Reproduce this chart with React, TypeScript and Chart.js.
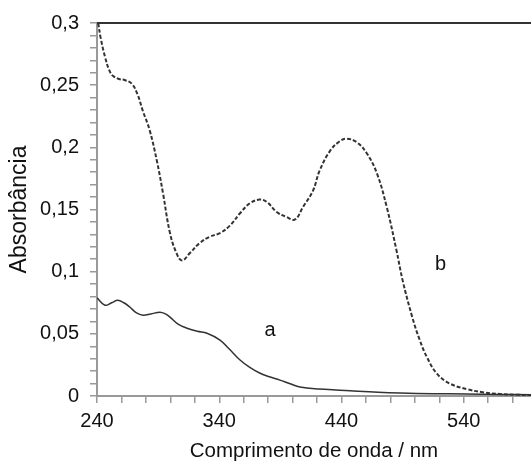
import React, { useEffect, useRef } from "react";
import { Chart, registerables } from "chart.js";

Chart.register(...registerables);

// Curve b (dashed)
const bX = [241, 243, 246.5, 250, 253, 258, 263, 268.6, 273, 277.6, 283, 289, 294, 299.7, 305, 309.5, 316, 324, 332, 340.6, 348.7, 357, 365, 373, 379, 387, 395, 402, 408.5, 416.6, 422, 430.5, 438.7, 444, 452.6, 460.8, 469, 477, 485, 490, 498, 504, 510, 518, 528.6, 542.5, 555.6, 569.5, 583, 595];
const bY = [0.300, 0.288, 0.273, 0.262, 0.2575, 0.255, 0.254, 0.251, 0.243, 0.229, 0.214, 0.189, 0.163, 0.131, 0.115, 0.109, 0.115, 0.123, 0.128, 0.131, 0.137, 0.147, 0.155, 0.158, 0.156, 0.148, 0.144, 0.142, 0.152, 0.165, 0.181, 0.197, 0.205, 0.207, 0.204, 0.195, 0.179, 0.152, 0.117, 0.093, 0.063, 0.045, 0.031, 0.018, 0.010, 0.0055, 0.003, 0.0016, 0.001, 0.0008];

// Curve a (solid)
const aX = [240, 246.5, 252, 257, 262, 267, 272, 277.6, 284, 291.5, 296, 299.7, 306, 313.6, 322, 330, 340.6, 348, 357, 365, 373, 381, 389.6, 398, 406, 422, 447, 470, 488, 515, 542, 570, 595];
const aY = [0.079, 0.073, 0.075, 0.077, 0.075, 0.0714, 0.067, 0.065, 0.066, 0.0674, 0.066, 0.0634, 0.058, 0.0545, 0.052, 0.0505, 0.045, 0.038, 0.029, 0.023, 0.0185, 0.0155, 0.0128, 0.0098, 0.0072, 0.0056, 0.0042, 0.003, 0.0024, 0.0019, 0.0016, 0.0013, 0.001];

const xMin = 240;
const xMax = 595;
const xTickValues = [240, 260, 280, 300, 320, 340, 360, 380, 400, 420, 440, 460, 480, 500, 520, 540, 560, 580];
const xLabelValues = [240, 340, 440, 540];
const yMin = 0;
const yMax = 0.3;
const yTickValues = Array.from({ length: 31 }, (_, i) => i / 100);

const curveLabels = [
  { text: "a", x: 381.5, y: 0.053 },
  { text: "b", x: 521, y: 0.106 },
];

const FONT = "'Liberation Sans', Arial, sans-serif";

const overlayPlugin = {
  id: "overlay",
  afterDatasetsDraw(chart: any) {
    const { ctx, chartArea, scales } = chart;
    const ys = scales.y;
    const xs = scales.x;
    ctx.save();
    const yt = ys.getPixelForValue(yMax);
    ctx.strokeStyle = "#333333";
    ctx.lineWidth = 2;
    ctx.beginPath();
    ctx.moveTo(chartArea.left, yt);
    ctx.lineTo(chartArea.right, yt);
    ctx.stroke();
    ctx.fillStyle = "#111111";
    ctx.font = `20px ${FONT}`;
    ctx.textAlign = "center";
    ctx.textBaseline = "middle";
    for (const l of curveLabels) {
      ctx.fillText(l.text, xs.getPixelForValue(l.x), ys.getPixelForValue(l.y));
    }
    ctx.restore();
  },
};

export default function App() {
  const ref = useRef<HTMLCanvasElement | null>(null);
  useEffect(() => {
    if (!ref.current) return;
    const chart = new Chart(ref.current, {
      type: "line",
      data: {
        datasets: [
          {
            label: "b",
            data: bX.map((x, i) => ({ x, y: bY[i] })),
            borderColor: "#333333",
            borderWidth: 2,
            borderDash: [4, 2],
            pointRadius: 0,
            tension: 0.4,
            fill: false,
          },
          {
            label: "a",
            data: aX.map((x, i) => ({ x, y: aY[i] })),
            borderColor: "#333333",
            borderWidth: 1.5,
            pointRadius: 0,
            tension: 0.4,
            fill: false,
          },
        ],
      },
      options: {
        responsive: false,
        animation: false,
        layout: { padding: { top: 22, right: 0, left: 0, bottom: 0 } },
        plugins: {
          legend: { display: false },
          tooltip: { enabled: false },
        },
        scales: {
          x: {
            type: "linear",
            min: xMin,
            max: xMax,
            afterBuildTicks: (scale: any) => {
              scale.ticks = xTickValues.map((v) => ({ value: v }));
            },
            afterFit: (scale: any) => {
              scale.height = 67;
            },
            ticks: {
              autoSkip: false,
              maxRotation: 0,
              padding: 6,
              color: "#111111",
              font: { family: FONT, size: 20 },
              callback: (v: any) => (xLabelValues.includes(Number(v)) ? String(v) : ""),
            },
            grid: {
              drawOnChartArea: false,
              drawTicks: true,
              tickLength: 7,
              color: "#999999",
              lineWidth: 1.5,
            },
            border: { display: true, color: "#999999", width: 2 },
            title: {
              display: true,
              text: "Comprimento de onda / nm",
              color: "#111111",
              font: { family: FONT, size: 20.5, lineHeight: 1 },
              padding: { top: 0, bottom: 1 },
            },
          },
          y: {
            type: "linear",
            min: yMin,
            max: yMax,
            afterBuildTicks: (scale: any) => {
              scale.ticks = yTickValues.map((v) => ({ value: v }));
            },
            afterFit: (scale: any) => {
              scale.width = 97;
            },
            ticks: {
              autoSkip: false,
              padding: 11,
              color: "#111111",
              font: { family: FONT, size: 20 },
              callback: (v: any) => {
                const n = Math.round(Number(v) * 100);
                if (n % 5 !== 0) return "";
                if (n === 0) return "0";
                return String(n / 100).replace(".", ",");
              },
            },
            grid: {
              drawOnChartArea: false,
              drawTicks: true,
              tickLength: 7,
              color: "#999999",
              lineWidth: 1.5,
            },
            border: { display: true, color: "#999999", width: 2 },
            title: {
              display: true,
              text: "Absorbância",
              color: "#111111",
              font: { family: FONT, size: 23, lineHeight: 1.2 },
              padding: { top: 6, bottom: 0 },
            },
          },
        },
      },
      plugins: [overlayPlugin],
    } as any);
    return () => chart.destroy();
  }, []);
  return (
    <div style={{ position: "absolute", left: 0, top: 0, width: 531, height: 463, overflow: "hidden", background: "#fff" }}>
      <canvas ref={ref} width={531} height={463} style={{ display: "block" }} />
    </div>
  );
}
